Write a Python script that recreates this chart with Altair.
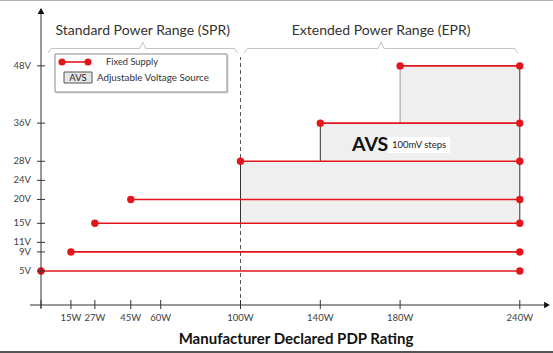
import altair as alt
import pandas as pd

# ---------------- data ----------------
fixed_volts = [5, 9, 15, 20, 28, 36, 48]
fixed_start_w = [0, 15, 27, 45, 100, 140, 180]
fixed_end_w = [240, 240, 240, 240, 240, 240, 240]

avs_low_v = [15, 28, 36]
avs_high_v = [28, 36, 48]
avs_start_w = [100, 140, 180]
avs_end_w = [240, 240, 240]

y_tick_values = [5, 9, 11, 15, 20, 24, 28, 36, 48]
y_tick_labels = ["5V", "9V", "11V", "15V", "20V", "24V", "28V", "36V", "48V"]
x_tick_values = [15, 27, 45, 60, 100, 140, 180, 240]
x_tick_labels = ["15W", "27W", "45W", "60W", "100W", "140W", "180W", "240W"]

range_names = ["Standard Power Range (SPR)", "Extended Power Range (EPR)"]
range_start_w = [3.5, 102]
range_end_w = [98.5, 239]

# ---------------- layout ----------------
W, H = 553, 353
PX_PER_W = 1.995
X0 = 41            # pixel of 0 W
PX_PER_V = 4.77
Y5 = 271           # pixel of 5 V


def wv(px):
    return (px - X0) / PX_PER_W


def vv(py):
    return 5 + (Y5 - py) / PX_PER_V


xs = alt.Scale(domain=[wv(0), wv(W)], nice=False, zero=False)
ys = alt.Scale(domain=[vv(H), vv(0)], nice=False, zero=False)

RED = "#e3151c"
AX = "#333333"
FONT = "Lato"

X_AXIS_V = vv(305)
Y_AXIS_W = 0

# fixed supply
fixed = pd.DataFrame({"v": fixed_volts, "w0": fixed_start_w, "w1": fixed_end_w})
pts = pd.DataFrame({
    "w": fixed_start_w + fixed_end_w,
    "v": fixed_volts + fixed_volts,
})

avs = pd.DataFrame({"v0": avs_low_v, "v1": avs_high_v, "w0": avs_start_w, "w1": avs_end_w})
avs["c"] = [AX, AX, "#999999"]

shade = alt.Chart(avs).mark_rect(color="#efefef").encode(
    x=alt.X("w0:Q", scale=xs, axis=None), x2="w1:Q",
    y=alt.Y("v0:Q", scale=ys, axis=None), y2="v1:Q")

dash = alt.Chart(pd.DataFrame({"w": [100], "v0": [X_AXIS_V], "v1": [vv(57)]})).mark_rule(
    color="#555555", strokeDash=[4, 3], strokeWidth=1).encode(
    x=alt.X("w:Q", scale=xs, axis=None), y=alt.Y("v0:Q", scale=ys, axis=None), y2="v1:Q")

left_edges = alt.Chart(avs).mark_rule(strokeWidth=1).encode(
    x=alt.X("w0:Q", scale=xs, axis=None), y=alt.Y("v0:Q", scale=ys, axis=None), y2="v1:Q",
    color=alt.Color("c:N", scale=None))
right_edge = alt.Chart(pd.DataFrame({"w": [max(avs_end_w)], "v0": [min(avs_low_v)], "v1": [max(avs_high_v)]})).mark_rule(
    color=AX, strokeWidth=1).encode(
    x=alt.X("w:Q", scale=xs, axis=None), y=alt.Y("v0:Q", scale=ys, axis=None), y2="v1:Q")

red_lines = alt.Chart(fixed).mark_rule(color=RED, strokeWidth=1.6).encode(
    x=alt.X("w0:Q", scale=xs, axis=None), x2="w1:Q", y=alt.Y("v:Q", scale=ys, axis=None))
red_pts = alt.Chart(pts).mark_circle(color=RED, size=55, opacity=1).encode(
    x=alt.X("w:Q", scale=xs, axis=None), y=alt.Y("v:Q", scale=ys, axis=None))

# axes
y_axis = alt.Chart(pd.DataFrame({"w": [Y_AXIS_W], "v0": [vv(308)], "v1": [vv(9)]})).mark_rule(
    color=AX, strokeWidth=1).encode(
    x=alt.X("w:Q", scale=xs, axis=None), y=alt.Y("v0:Q", scale=ys, axis=None), y2="v1:Q")
x_axis = alt.Chart(pd.DataFrame({"v": [X_AXIS_V], "w0": [wv(30)], "w1": [wv(546)]})).mark_rule(
    color=AX, strokeWidth=1).encode(
    y=alt.Y("v:Q", scale=ys, axis=None), x=alt.X("w0:Q", scale=xs, axis=None), x2="w1:Q")
arrow_up = alt.Chart(pd.DataFrame({"w": [Y_AXIS_W], "v": [vv(11)]})).mark_point(
    shape="triangle-up", filled=True, color="#111111", size=45, opacity=1).encode(
    x=alt.X("w:Q", scale=xs, axis=None), y=alt.Y("v:Q", scale=ys, axis=None))
arrow_right = alt.Chart(pd.DataFrame({"w": [wv(547)], "v": [X_AXIS_V]})).mark_point(
    shape="triangle-right", filled=True, color="#111111", size=45, opacity=1).encode(
    x=alt.X("w:Q", scale=xs, axis=None), y=alt.Y("v:Q", scale=ys, axis=None))

ytk = pd.DataFrame({"v": y_tick_values, "label": y_tick_labels,
                    "w0": [wv(37)] * len(y_tick_values), "w1": [wv(45)] * len(y_tick_values),
                    "wl": [wv(31)] * len(y_tick_values)})
xtk = pd.DataFrame({"w": [0] + x_tick_values, "v0": [vv(300)] * (len(x_tick_values) + 1),
                    "v1": [vv(309)] * (len(x_tick_values) + 1)})
xlb = pd.DataFrame({"w": x_tick_values, "label": x_tick_labels, "v": [vv(317.5)] * len(x_tick_values)})

y_ticks = alt.Chart(ytk).mark_rule(color=AX, strokeWidth=1).encode(
    y=alt.Y("v:Q", scale=ys, axis=None), x=alt.X("w0:Q", scale=xs, axis=None), x2="w1:Q")
y_labels = alt.Chart(ytk).mark_text(align="right", baseline="middle", font=FONT, fontSize=9.5,
                                    color="#404040").encode(
    y=alt.Y("v:Q", scale=ys, axis=None), x=alt.X("wl:Q", scale=xs, axis=None), text="label:N")
x_ticks = alt.Chart(xtk).mark_rule(color=AX, strokeWidth=1).encode(
    x=alt.X("w:Q", scale=xs, axis=None), y=alt.Y("v0:Q", scale=ys, axis=None), y2="v1:Q")
x_labels = alt.Chart(xlb).mark_text(align="center", baseline="middle", font=FONT, fontSize=9.5,
                                    color="#404040").encode(
    x=alt.X("w:Q", scale=xs, axis=None), y=alt.Y("v:Q", scale=ys, axis=None), text="label:N")
x_title = alt.Chart(pd.DataFrame({"w": [wv(296)], "v": [vv(339)], "t": ["Manufacturer Declared PDP Rating"]})).mark_text(
    align="center", baseline="middle", font=FONT, fontSize=15, fontWeight="bold", color="#111111").encode(
    x=alt.X("w:Q", scale=xs, axis=None), y=alt.Y("v:Q", scale=ys, axis=None), text="t:N")

# braces over the two ranges
brace_rows = []
for name, a, b in zip(range_names, range_start_w, range_end_w):
    m = (a + b) / 2
    d = 1.5
    v_end, v_base, v_peak = vv(53), vv(48.5), vv(42)
    seq = [(a, v_end), (a + d, v_base), (m - d, v_base), (m, v_peak),
           (m + d, v_base), (b - d, v_base), (b, v_end)]
    for k, (w_, v_) in enumerate(seq):
        brace_rows.append({"g": name, "o": k, "w": w_, "v": v_})
braces = alt.Chart(pd.DataFrame(brace_rows)).mark_line(color="#c4c4c4", strokeWidth=1).encode(
    x=alt.X("w:Q", scale=xs, axis=None), y=alt.Y("v:Q", scale=ys, axis=None),
    detail="g:N", order="o:Q")
range_titles = alt.Chart(pd.DataFrame({
    "w": [(a + b) / 2 for a, b in zip(range_start_w, range_end_w)],
    "v": [vv(31)] * 2, "t": range_names})).mark_text(
    align="center", baseline="middle", font=FONT, fontSize=14, color="#333333").encode(
    x=alt.X("w:Q", scale=xs, axis=None), y=alt.Y("v:Q", scale=ys, axis=None), text="t:N")

# AVS annotation
avs_bg = alt.Chart(pd.DataFrame({"w0": [wv(388)], "w1": [wv(450)], "v0": [vv(153)], "v1": [vv(137)]})).mark_rect(
    color="white").encode(
    x=alt.X("w0:Q", scale=xs, axis=None), x2="w1:Q", y=alt.Y("v0:Q", scale=ys, axis=None), y2="v1:Q")
avs_big = alt.Chart(pd.DataFrame({"w": [wv(352)], "v": [vv(145)], "t": ["AVS"]})).mark_text(
    align="left", baseline="middle", font=FONT, fontSize=19.5, fontWeight="bold", color="#111111").encode(
    x=alt.X("w:Q", scale=xs, axis=None), y=alt.Y("v:Q", scale=ys, axis=None), text="t:N")
avs_small = alt.Chart(pd.DataFrame({"w": [wv(392)], "v": [vv(145)], "t": ["100mV steps"]})).mark_text(
    align="left", baseline="middle", font=FONT, fontSize=9.5, color="#222222").encode(
    x=alt.X("w:Q", scale=xs, axis=None), y=alt.Y("v:Q", scale=ys, axis=None), text="t:N")

# legend box
dummy = pd.DataFrame({"a": [0]})
leg_shadow = alt.Chart(dummy).mark_rect(color="#dddddd").encode(
    x=alt.value(56.5), x2=alt.value(228.5), y=alt.value(55.5), y2=alt.value(93.5))
leg_box = alt.Chart(dummy).mark_rect(fill="white", stroke="#8a8a8a", strokeWidth=1).encode(
    x=alt.value(55), x2=alt.value(227), y=alt.value(54), y2=alt.value(92))
leg_line = alt.Chart(dummy).mark_rule(color=RED, strokeWidth=1.6).encode(
    x=alt.value(62), x2=alt.value(88), y=alt.value(62))
leg_dots = alt.Chart(pd.DataFrame({"px": [62, 88]})).mark_circle(color=RED, size=50, opacity=1).encode(
    x=alt.X("px:Q", scale=None), y=alt.value(62))
leg_fixed = alt.Chart(dummy).mark_text(align="left", baseline="middle", font=FONT, fontSize=9.3,
                                       color="#333333", text="Fixed Supply").encode(
    x=alt.value(106), y=alt.value(62))
leg_avs_box = alt.Chart(dummy).mark_rect(fill="#e6e6e6", stroke="#555555", strokeWidth=1).encode(
    x=alt.value(64), x2=alt.value(92), y=alt.value(72), y2=alt.value(83))
leg_avs_txt = alt.Chart(dummy).mark_text(align="center", baseline="middle", font=FONT, fontSize=9.5,
                                         color="#222222", text="AVS").encode(
    x=alt.value(78), y=alt.value(77.5))
leg_avs_lbl = alt.Chart(dummy).mark_text(align="left", baseline="middle", font=FONT, fontSize=9.8,
                                         color="#333333", text="Adjustable Voltage Source").encode(
    x=alt.value(97), y=alt.value(77.5))

# frame lines of the picture
top_line = alt.Chart(dummy).mark_rule(color="#b0b0b0", strokeWidth=1).encode(
    x=alt.value(0), x2=alt.value(W), y=alt.value(0.5))
bottom_line = alt.Chart(dummy).mark_rule(color="#555555", strokeWidth=2).encode(
    x=alt.value(0), x2=alt.value(W), y=alt.value(352))

chart = alt.layer(
    dash, shade, left_edges, right_edge, red_lines, red_pts,
    y_axis, x_axis, arrow_up, arrow_right, y_ticks, y_labels, x_ticks, x_labels, x_title,
    braces, range_titles, avs_bg, avs_big, avs_small,
    leg_shadow, leg_box, leg_line, leg_dots, leg_fixed, leg_avs_box, leg_avs_txt, leg_avs_lbl,
    top_line, bottom_line,
).properties(
    width=W, height=H, padding=0, autosize=alt.AutoSizeParams(type="none"),
    background="white",
).configure_view(stroke=None)

chart.save("out.html", embed_options={"renderer": "svg", "actions": False})
